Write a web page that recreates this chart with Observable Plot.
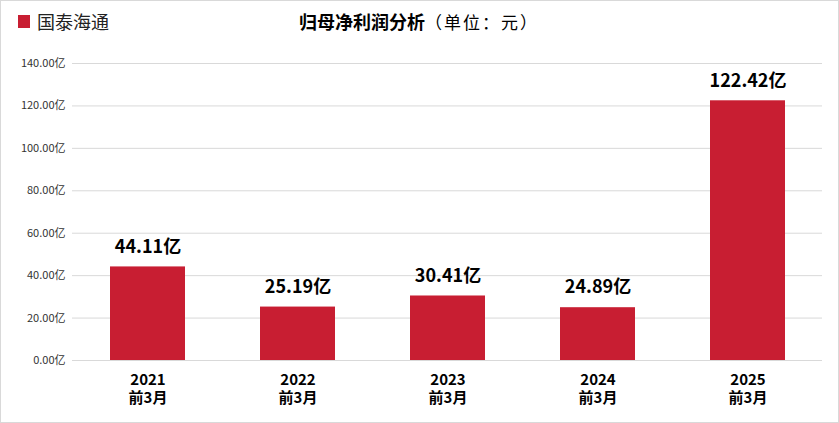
<!DOCTYPE html>
<html lang="zh-CN"><head><meta charset="utf-8">
<script src="https://cdn.jsdelivr.net/npm/d3@7"></script>
<script src="https://cdn.jsdelivr.net/npm/@observablehq/plot@0.6"></script>
<style>
body{margin:0;background:#fff;font-family:"Noto Sans CJK SC","Microsoft YaHei",sans-serif;}
#frame{position:relative;width:839px;height:423px;box-sizing:border-box;border:1px solid #d9d9d9;overflow:hidden;background:#fff;}
#header{position:relative;height:44px;}
#legend{position:absolute;left:17px;top:7px;font-size:18px;color:#222;display:flex;align-items:center;}
#legend span.sw{display:inline-block;width:12px;height:13px;background:#c81e32;margin-right:7px;}
#title{position:absolute;left:0;width:836px;top:7px;text-align:center;font-size:17px;color:#000;}
#title b{font-weight:bold;font-size:18px;}
#title span{letter-spacing:2px;}
</style></head>
<body><div id="frame"><div id="header"><div id="legend"><span class="sw"></span>国泰海通</div><div id="title"><b>归母净利润分析</b><span>（单位：元）</span></div></div><div id="chart"></div></div>
<script>
const categories = ["2021\n前3月","2022\n前3月","2023\n前3月","2024\n前3月","2025\n前3月"];
const values = [44.11, 25.19, 30.41, 24.89, 122.42];
const yTicks = [0,20,40,60,80,100,120,140];
const data = categories.map((c,i)=>({cat:c, v:values[i]}));
const color = "#c81e32";
const chart = Plot.plot({
  width: 837, height: 378,
  marginTop: 18, marginBottom: 63, marginLeft: 71, marginRight: 16,
  style: {fontFamily: '"Noto Sans CJK SC", sans-serif', background: "#fff"},
  x: {domain: categories, paddingInner: 0.5, paddingOuter: 0.25, label: null},
  y: {domain: [0,140], label: null},
  marks: [
    Plot.gridY(yTicks, {stroke: "#d9d9d9", strokeOpacity: 1}),
    Plot.axisY(yTicks, {tickSize: 0, tickPadding: 7, fontSize: 11, fill: "#333", tickFormat: d => d.toFixed(2) + "亿"}),
    Plot.axisX({tickSize: 0, tickPadding: 12, fontSize: 15, fontWeight: "bold", fill: "#000", lineHeight: 1.2}),
    Plot.barY(data, {x: "cat", y: "v", fill: color}),
    Plot.ruleY([0], {stroke: "#d9d9d9"}),
    Plot.text(data, {x: "cat", y: "v", text: d => d.v.toFixed(2) + "亿", dy: -20, fontSize: 18, fontWeight: "bold", fill: "#000"})
  ]
});
document.getElementById("chart").appendChild(chart);
</script></body></html>
